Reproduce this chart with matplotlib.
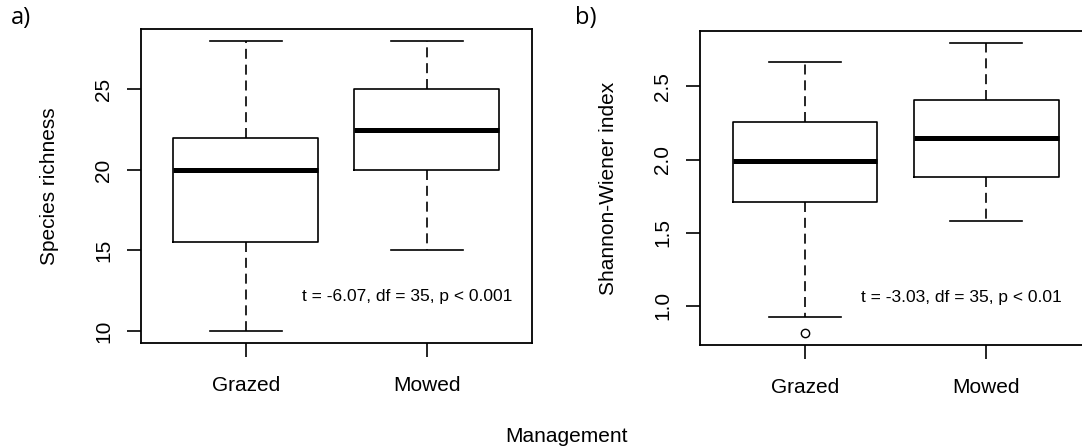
import matplotlib.pyplot as plt

plt.rcParams['font.family'] = ['Liberation Sans', 'DejaVu Sans']

groups = ["Grazed", "Mowed"]

# five-number summaries per group: lower whisker, Q1, median, Q3, upper whisker
richness_whislo = [10, 15]
richness_q1 = [15.5, 20]
richness_med = [20, 22.5]
richness_q3 = [22, 25]
richness_whishi = [28, 28]
richness_fliers = [[], []]

shannon_whislo = [0.92, 1.58]
shannon_q1 = [1.71, 1.88]
shannon_med = [1.99, 2.15]
shannon_q3 = [2.26, 2.41]
shannon_whishi = [2.67, 2.80]
shannon_fliers = [[0.81], []]

richness_test = "t = -6.07, df = 35, p < 0.001"
shannon_test = "t = -3.03, df = 35, p < 0.01"


def make_stats(lo, q1, med, q3, hi, fliers):
    return [dict(label=g, whislo=lo[i], q1=q1[i], med=med[i], q3=q3[i],
                 whishi=hi[i], fliers=fliers[i])
            for i, g in enumerate(groups)]


def r_boxplot(ax, stats, ylabel, note, note_xy, yticks):
    ax.bxp(stats, positions=[1, 2], widths=0.8, showfliers=True,
           boxprops=dict(color="black", linewidth=1.2),
           medianprops=dict(color="black", linewidth=3.6,
                            solid_capstyle="butt"),
           whiskerprops=dict(color="black", linewidth=1.2,
                             linestyle=(0, (6, 3.5))),
           capprops=dict(color="black", linewidth=1.2),
           capwidths=0.4,
           flierprops=dict(marker="o", markersize=6, markerfacecolor="none",
                           markeredgecolor="black", markeredgewidth=1.0))
    # R-style 4% padding around the data range
    lo = min(min(s["whislo"], *s["fliers"]) if s["fliers"] else s["whislo"]
             for s in stats)
    hi = max(s["whishi"] for s in stats)
    pad = 0.04 * (hi - lo)
    ax.set_ylim(lo - pad, hi + pad)
    ax.set_xlim(0.42, 2.58)
    ax.set_yticks(yticks)
    ax.set_xticks([1, 2], groups)
    for sp in ax.spines.values():
        sp.set_linewidth(1.3)
    ax.tick_params(axis="both", length=10, width=1.2, labelsize=15,
                   color="black")
    ax.tick_params(axis="x", pad=14)
    ax.tick_params(axis="y", pad=10)
    for t in ax.get_yticklabels():
        t.set_rotation(90)
        t.set_va("center")
    ax.set_ylabel(ylabel, fontsize=15)
    ax.yaxis.label.set_va("center")
    ax.yaxis.set_label_coords(-0.234, 0.5)
    ax.text(note_xy[0], note_xy[1], note, fontsize=12.5,
            ha="center", va="center")


fig = plt.figure(figsize=(10.82, 4.48), dpi=100)
ax1 = fig.add_axes([0.1300, 0.2350, 0.3617, 0.6996])
ax2 = fig.add_axes([0.6470, 0.2299, 0.3614, 0.7009])

r_boxplot(ax1, make_stats(richness_whislo, richness_q1, richness_med,
                          richness_q3, richness_whishi, richness_fliers),
          "Species richness", richness_test, (1.89, 12.15),
          [10, 15, 20, 25])
r_boxplot(ax2, make_stats(shannon_whislo, shannon_q1, shannon_med,
                          shannon_q3, shannon_whishi, shannon_fliers),
          "Shannon-Wiener index", shannon_test, (1.862, 1.057),
          [1.0, 1.5, 2.0, 2.5])
ax2.yaxis.set_major_formatter(plt.FormatStrFormatter("%.1f"))

fig.text(0.010, 0.960, "a)", fontsize=17, family=["Open Sans", "DejaVu Sans"],
         va="center")
fig.text(0.531, 0.960, "b)", fontsize=17, family=["Open Sans", "DejaVu Sans"],
         va="center")
fig.text(0.524, 0.014, "Management", fontsize=15, ha="center",
         va="baseline")

fig.savefig("out.png", dpi=100)
